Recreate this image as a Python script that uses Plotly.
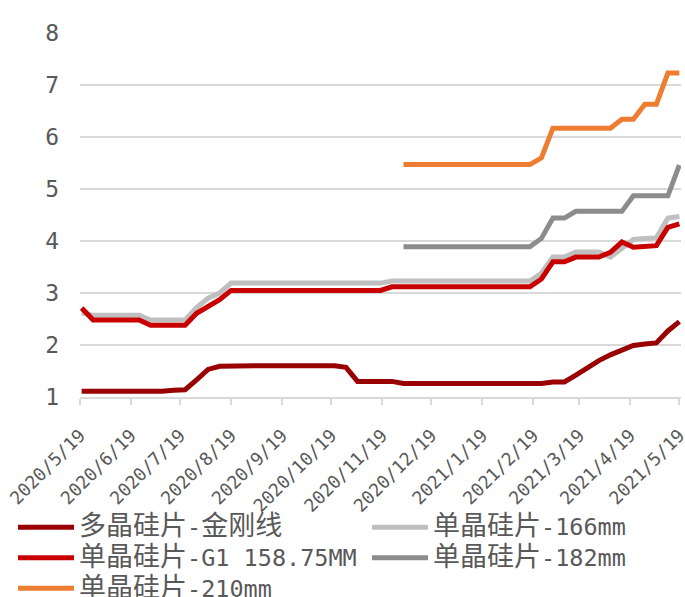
import re
import datetime as dt
import plotly.graph_objects as go

# Weekly observation dates (Wednesdays), 2020-05-20 .. 2021-05-19
start = dt.date(2020, 5, 20)
dates = [start + dt.timedelta(days=7 * i) for i in range(53)]

# Price series (yuan / piece)
poly_diamond = [1.11, 1.11, 1.09, 1.09, 1.09, 1.09, 1.11, 1.11, 1.13, 1.14,
                1.33, 1.53, 1.59, 1.60, 1.60, 1.60, 1.60, 1.60, 1.60, 1.60,
                1.60, 1.60, 1.60, 1.57, 1.30, 1.30, 1.30, 1.30, 1.26, 1.26,
                1.26, 1.26, 1.26, 1.26, 1.26, 1.26, 1.26, 1.26, 1.26, 1.26,
                1.26, 1.29, 1.29, 1.42, 1.57, 1.70, 1.81, 1.90, 1.99, 2.02,
                2.04, 2.27, 2.45]

mono_166 = [2.62, 2.57, 2.57, 2.57, 2.57, 2.57, 2.48, 2.48, 2.48, 2.48,
            2.72, 2.90, 3.00, 3.19, 3.19, 3.19, 3.19, 3.19, 3.19, 3.19,
            3.19, 3.19, 3.19, 3.19, 3.19, 3.19, 3.19, 3.23, 3.23, 3.23,
            3.23, 3.23, 3.23, 3.23, 3.23, 3.23, 3.23, 3.23, 3.23, 3.23,
            3.38, 3.69, 3.69, 3.79, 3.79, 3.79, 3.69, 3.85, 4.03, 4.05,
            4.06, 4.44, 4.47]

mono_g1 = [2.71, 2.48, 2.48, 2.48, 2.48, 2.48, 2.38, 2.38, 2.38, 2.38,
           2.61, 2.73, 2.87, 3.05, 3.05, 3.05, 3.05, 3.05, 3.05, 3.05,
           3.05, 3.05, 3.05, 3.05, 3.05, 3.05, 3.05, 3.12, 3.12, 3.12,
           3.12, 3.12, 3.12, 3.12, 3.12, 3.12, 3.12, 3.12, 3.12, 3.12,
           3.27, 3.60, 3.60, 3.69, 3.69, 3.69, 3.78, 3.98, 3.88, 3.89,
           3.91, 4.26, 4.33]

mono_182 = [None] * 28 + [3.89, 3.89, 3.89, 3.89, 3.89, 3.89, 3.89, 3.89,
                          3.89, 3.89, 3.89, 3.89, 4.05, 4.44, 4.44, 4.57,
                          4.57, 4.57, 4.57, 4.57, 4.87, 4.87, 4.87, 4.87,
                          5.46]

mono_210 = [None] * 28 + [5.47, 5.47, 5.47, 5.47, 5.47, 5.47, 5.47, 5.47,
                          5.47, 5.47, 5.47, 5.47, 5.60, 6.17, 6.17, 6.17,
                          6.17, 6.17, 6.17, 6.34, 6.34, 6.63, 6.63, 7.23,
                          7.23]

series_names = ["多晶硅片-金刚线", "单晶硅片-166mm", "单晶硅片-G1 158.75MM",
                "单晶硅片-182mm", "单晶硅片-210mm"]
series_values = [poly_diamond, mono_166, mono_g1, mono_182, mono_210]
series_colors = ["#990000", "#BFBFBF", "#C80000", "#8C8C8C", "#ED7D31"]
# legend column for each series (left column / right column)
series_legend = ["legend", "legend2", "legend", "legend2", "legend"]

tick_dates = [dt.date(2020, m, 19) for m in range(5, 13)] + \
             [dt.date(2021, m, 19) for m in range(1, 6)]
tick_labels = [f"{d.year}/{d.month}/{d.day}" for d in tick_dates]


def legend_label(name):
    """Half-width Latin at 23.5px, CJK runs slightly larger at 27px."""
    body = re.sub(r"([\u4e00-\u9fff]+)",
                  r"<span style='font-size:27px'>\1</span>", name)
    return f"<span style='font-size:23.5px'>{body}</span>"


fig = go.Figure()
for name, vals, col, lg in zip(series_names, series_values, series_colors,
                               series_legend):
    fig.add_trace(go.Scatter(
        x=dates, y=vals, name=legend_label(name), mode="lines",
        line=dict(color=col, width=5), connectgaps=False, legend=lg,
    ))

text_gray = "#595959"
grid_gray = "#D9D9D9"
# base size sets the legend row pitch; glyph sizes come from the spans
legend_font = dict(family="DejaVu Sans Mono, Noto Sans CJK SC", size=21.2,
                   color=text_gray)
legend_common = dict(
    orientation="v", xanchor="left", yanchor="top", font=legend_font,
    itemwidth=56, tracegroupgap=0, bgcolor="rgba(0,0,0,0)",
)

fig.update_layout(
    width=685, height=597,
    margin=dict(l=80, r=4, t=33, b=200, autoexpand=False),
    plot_bgcolor="white", paper_bgcolor="white",
    showlegend=True,
    legend=dict(x=-0.1115, y=-0.302, **legend_common),
    legend2=dict(x=0.4775, y=-0.302, **legend_common),
)

fig.update_xaxes(
    type="date",
    range=[dt.date(2020, 5, 19), dt.date(2021, 5, 20)],
    tickvals=tick_dates, ticktext=tick_labels,
    tickangle=-45,
    tickfont=dict(family="DejaVu Sans Mono", size=18, color=text_gray),
    ticks="outside", ticklen=6, tickcolor=grid_gray, tickwidth=1.5,
    showline=True, linecolor=grid_gray, linewidth=1.5,
    showgrid=False, zeroline=False, automargin=False,
    ticklabelstandoff=13, ticklabeloverflow="allow",
)

fig.update_yaxes(
    range=[1, 8], dtick=1, tick0=1,
    tickfont=dict(family="DejaVu Sans Mono", size=23, color=text_gray),
    showgrid=True, gridcolor=grid_gray, gridwidth=1.5,
    showline=False, zeroline=False, automargin=False,
    ticks="", ticklabelstandoff=20,
)

fig.write_html("out.html")
